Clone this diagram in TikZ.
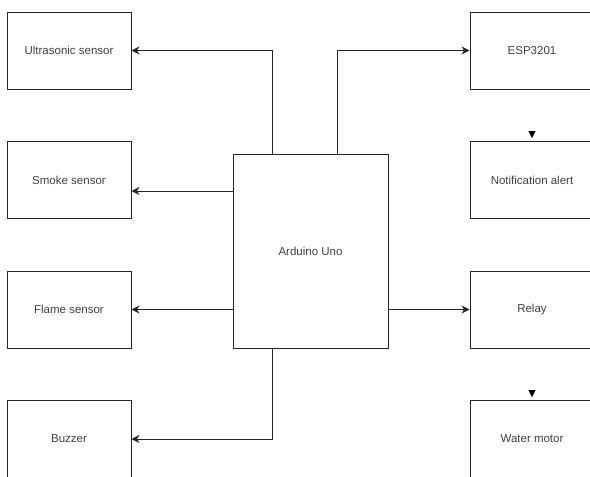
\documentclass[tikz,border=0pt]{standalone}
\usepackage{fontspec}
\setmainfont{Liberation Sans}
\usepackage{xcolor}
\usepackage{tikz}
\usetikzlibrary{positioning, arrows.meta}

\begin{document}
\begin{tikzpicture}[x=1pt, y=-1pt,
    font=\fontsize{11.5}{13}\selectfont,
    block/.style={draw=black!85, line width=1pt, minimum width=124pt, minimum height=77pt,
                  inner sep=0pt, text=black!75},
    link/.style={draw=black!85, line width=1pt, -{Stealth[length=8pt, width=8pt, inset=2.5pt]}},
    tip/.style={-{Triangle[length=7pt, width=7pt]}, draw=black}]
  \clip (0,0) rectangle (590,477);
  \fill[white] (0,0) rectangle (590,477);

  % left column
  \node[block] (ultra)  at (69,50.5)  {Ultrasonic sensor};
  \node[block] (smoke)  at (69,180)   {Smoke sensor};
  \node[block] (flame)  at (69,309.5) {Flame sensor};
  \node[block] (buzzer) at (69,439)   {Buzzer};

  % controller
  \node[draw=black!85, line width=1pt, minimum width=155pt, minimum height=194pt,
        inner sep=0pt, text=black!75] (uno) at (310.5,251) {Arduino Uno};

  % right column
  \node[block] (esp)    at (532,50.5)  {ESP3201};
  \node[block] (notify) at (532,180)   {Notification alert};
  \node[block] (relay)  at (532,309.5) {Relay};
  \node[block] (motor)  at (532,439)   {Water motor};

  \coordinate (smokein) at ([yshift=-11pt]smoke.east);
  \coordinate (notifyin) at ([yshift=3pt]notify.north);
  \coordinate (motorin) at ([yshift=3pt]motor.north);

  \draw[link] ([xshift=-38.5pt]uno.north) |- (ultra.east);
  \draw[link] (uno.west |- smokein) -- (smokein);
  \draw[link] (uno.west |- flame.east) -- (flame.east);
  \draw[link] ([xshift=-38.5pt]uno.south) |- (buzzer.east);
  \draw[link] ([xshift=26.5pt]uno.north) |- (esp.west);
  \draw[link] (uno.east |- relay.west) -- (relay.west);

  % loose arrow heads
  \draw[tip] ([yshift=7pt]notifyin) -- (notifyin);
  \draw[tip] ([yshift=7pt]motorin) -- (motorin);
\end{tikzpicture}
\end{document}
